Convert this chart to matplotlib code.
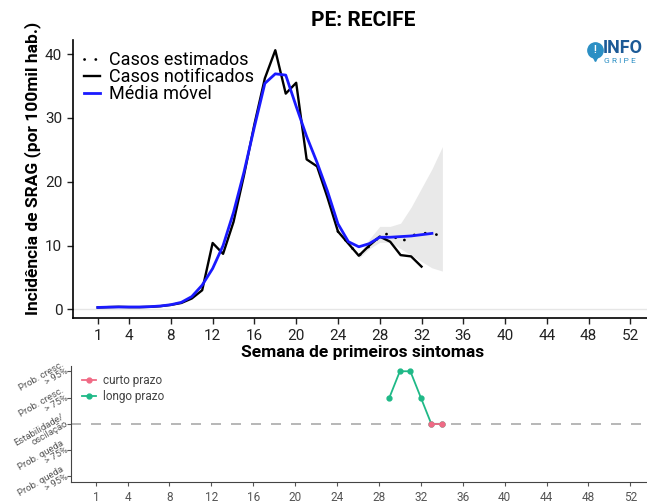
import numpy as np
import matplotlib
matplotlib.use("Agg")
import matplotlib.pyplot as plt
import matplotlib.transforms as mtransforms
from matplotlib.lines import Line2D

plt.rcParams["font.family"] = ["Roboto", "DejaVu Sans"]

# Dados
semanas_notif = list(range(1, 33))
notificados = [0.3, 0.35, 0.4, 0.35, 0.35, 0.4, 0.5, 0.7, 1.0, 1.7,
               3.0, 10.4, 8.7, 13.7, 21.0, 29.0, 36.2, 40.6, 33.8, 35.5,
               23.5, 22.4, 17.5, 12.2, 10.3, 8.4, 10.0, 11.4, 10.6, 8.5,
               8.3, 6.7]

semanas_media = list(range(1, 34))
media_movel = [0.3, 0.35, 0.37, 0.37, 0.37, 0.42, 0.53, 0.73, 1.1, 2.0,
               3.8, 6.4, 10.0, 15.2, 21.5, 28.6, 35.4, 36.9, 36.7, 31.8,
               27.1, 23.0, 18.5, 13.4, 10.6, 9.8, 10.3, 11.3, 11.3, 11.4,
               11.5, 11.7, 11.9]

semanas_est = list(range(24, 35))
estimados = [12.2, 10.3, 8.4, 9.9, 11.4, 12.0, 10.5, 11.5, 12.0, 11.8, 11.6]

semanas_ic = list(range(26, 35))
ic_inf = [8.0, 9.5, 10.5, 10.5, 9.5, 8.5, 7.5, 6.5, 6.0]
ic_sup = [8.6, 11.0, 13.0, 13.0, 13.5, 16.0, 19.0, 22.0, 25.5]

semanas_curto = [33, 34]
curto_prazo = [0, 0]
semanas_longo = [29, 30, 31, 32, 33, 34]
longo_prazo = [1, 2, 2, 1, 0, 0]

xticks = [1, 4, 8, 12, 16, 20, 24, 28, 32, 36, 40, 44, 48, 52]
niveis = [2, 1, 0, -1, -2]
niveis_lab = ["Prob. cresc.\n> 95%", "Prob. cresc.\n> 75%",
              "Estabilidade/\noscilação", "Prob. queda\n> 75%",
              "Prob. queda\n> 95%"]

W, H = 647, 504
fig = plt.figure(figsize=(W / 100, H / 100), dpi=100)

def box(l, t, r, b):
    return [l / W, 1 - b / H, (r - l) / W, (b - t) / H]

xmin, xmax = -1.4, 54.55

# Painel superior
ax = fig.add_axes(box(72.7, 40, 657, 318.3))
ax.fill_between(semanas_ic, ic_inf, ic_sup, color="#d4d4d4", alpha=0.5, lw=0)
ax.axhline(0, color="#e6e6e6", lw=1, zorder=0)
ax.plot(semanas_est, estimados, color="black", lw=2.0, ls=(0, (0.05, 4.0)),
        dash_capstyle="round", label="Casos estimados")
ax.plot(semanas_notif, notificados, color="black", lw=1.7, label="Casos notificados")
ax.plot(semanas_media, media_movel, color="#1a1aff", lw=2.0, label="Média móvel")
ax.set_xlim(xmin, xmax)
ax.set_ylim(-1.4, 42.2)
ax.set_xticks(xticks)
ax.set_yticks([0, 10, 20, 30, 40])
ax.tick_params(labelsize=11, length=4, width=1, colors="#222222")
for s in ["top", "right"]:
    ax.spines[s].set_visible(False)
for s in ["left", "bottom"]:
    ax.spines[s].set_linewidth(1.2)
ax.legend(loc="upper left", bbox_to_anchor=(0.0, 1.0), frameon=False,
          fontsize=13, handlelength=0.9, handletextpad=0.5,
          labelspacing=-0.05, borderaxespad=0.2)

fig.text(363 / W, 1 - 20 / H, "PE: RECIFE", ha="center", va="center",
         fontsize=15, fontweight="bold")
fig.text(33 / W, 1 - 168 / H, "Incidência de SRAG (por 100mil hab.)",
         rotation=90, ha="center", va="center", fontsize=12.5, fontweight="bold")
fig.text(363 / W, 1 - 353 / H, "Semana de primeiros sintomas",
         ha="center", va="center", fontsize=12.5, fontweight="bold")

# Logo InfoGripe
fig.add_artist(Line2D([595 / W], [1 - 55 / H], marker="v", ms=9,
                      color="#2b8fc4", transform=fig.transFigure))
fig.add_artist(Line2D([595 / W], [1 - 50 / H], marker="o", ms=11,
                      color="#2b8fc4", transform=fig.transFigure))
fig.text(595 / W, 1 - 50 / H, "!", color="white", fontsize=7,
         ha="center", va="center", fontweight="bold")
fig.text(603 / W, 1 - 48 / H, "INFO", color="#1c5a96", fontsize=13,
         fontweight="bold", ha="left", va="center")
fig.text(604 / W, 1 - 61 / H, "G R I P E", color="#2b8fc4", fontsize=6,
         ha="left", va="center")

# Painel inferior
ax2 = fig.add_axes(box(71, 366, 657, 481.7))
ax2.axhline(0, color="#aaaaaa", lw=1.2, ls=(0, (6, 6)))
ax2.plot(semanas_longo, longo_prazo, color="#1fb987", lw=1.3, marker="o",
         ms=3.5, label="longo prazo")
ax2.plot(semanas_curto, curto_prazo, color="#f06a85", lw=1.3, marker="o",
         ms=3.5, label="curto prazo")
ax2.set_xlim(xmin, xmax)
ax2.set_ylim(-2.2, 2.2)
ax2.set_xticks(xticks)
ax2.set_yticks(niveis)
ax2.set_yticklabels([])
trans = mtransforms.blended_transform_factory(ax2.transAxes, ax2.transData)
for nv, lab in zip(niveis, niveis_lab):
    ax2.text(-0.01, nv + 0.15, lab, transform=trans, rotation=30,
             rotation_mode="anchor", ha="right", va="center", fontsize=6.8,
             color="#555555", linespacing=0.85, multialignment="right",
             clip_on=False)
ax2.tick_params(axis="x", labelsize=8.5, colors="#555555", length=3)
ax2.tick_params(axis="y", length=3, colors="#555555")
for s in ["top", "right"]:
    ax2.spines[s].set_visible(False)
for s in ["left", "bottom"]:
    ax2.spines[s].set_color("#444444")
h, l = ax2.get_legend_handles_labels()
ax2.legend(h[::-1], l[::-1], loc="upper left", bbox_to_anchor=(0.0, 1.02),
           frameon=False, fontsize=8.5, handlelength=1.2, handletextpad=0.6,
           labelspacing=0.2, labelcolor="#444444")

fig.savefig("out.png", dpi=100)
